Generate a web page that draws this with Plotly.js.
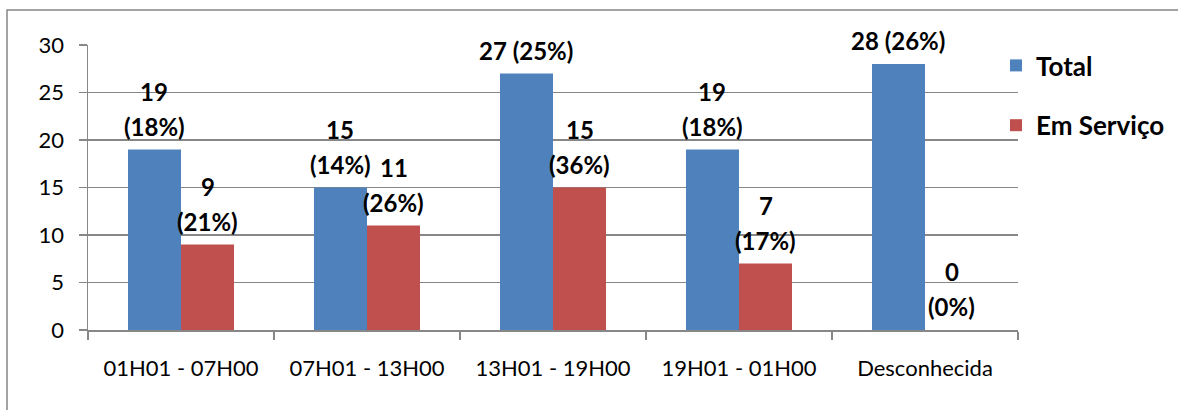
<!DOCTYPE html>
<html><head><meta charset="utf-8">
<script src="https://cdn.plot.ly/plotly-3.0.1.min.js"></script>
<style>html,body{margin:0;padding:0;background:#fff}#chart{width:1178px;height:410px}</style>
</head><body><div id="chart"></div>
<script>
const categories = ["01H01 - 07H00", "07H01 - 13H00", "13H01 - 19H00", "19H01 - 01H00", "Desconhecida"];
const totalValues = [19, 15, 27, 19, 28];
const servicoValues = [9, 11, 15, 7, 0];
const totalLabels = ["19\n(18%)", "15\n(14%)", "27 (25%)", "19\n(18%)", "28 (26%)"];
const servicoLabels = ["9\n(21%)", "11\n(26%)", "15\n(36%)", "7\n(17%)", "0\n(0%)"];
const seriesNames = ["Total", "Em Serviço"];
const yTicks = [0, 5, 10, 15, 20, 25, 30];

const W = 1178, H = 410;
const margin = {l: 88, r: 160, t: 45, b: 80, autoexpand: false};
const plotW = W - margin.l - margin.r;
const plotH = H - margin.t - margin.b;
const bargap = 0.43;
const barPx = (plotW / categories.length) * (1 - bargap) / 2;
const gray = '#878787';
const fontFam = 'Lato, "Open Sans", sans-serif';

const traces = [
  {type: 'bar', name: seriesNames[0], x: categories, y: totalValues, marker: {color: '#4F81BD'}, legendgroup: 'a', hoverinfo: 'none'},
  {type: 'bar', name: seriesNames[1], x: categories, y: servicoValues, marker: {color: '#C0504D'}, legendgroup: 'b', hoverinfo: 'none'}
];

const annotations = [];
const gap = 7, lineStep = 35;
[[totalValues, totalLabels, -1], [servicoValues, servicoLabels, 1]].forEach(([vals, labels, side]) => {
  vals.forEach((v, i) => {
    const lines = labels[i].split('\n').reverse();
    lines.forEach((ln, k) => {
      annotations.push({
        x: categories[i], y: v, xref: 'x', yref: 'y',
        text: ln, showarrow: false, xanchor: 'center', yanchor: 'bottom',
        xshift: side * barPx / 2, yshift: gap + k * lineStep,
        font: {family: fontFam, size: 24, weight: 700, color: '#000'}
      });
    });
  });
});

const layout = {
  width: W, height: H,
  margin: margin,
  paper_bgcolor: '#fff', plot_bgcolor: '#fff',
  barmode: 'group', bargap: bargap, bargroupgap: 0,
  font: {family: fontFam, color: '#000'},
  xaxis: {
    type: 'category', showline: true, linecolor: gray, linewidth: 1.5,
    ticks: 'outside', tickson: 'boundaries', ticklen: 8, tickcolor: gray, tickwidth: 1.5,
    showgrid: false, tickfont: {family: fontFam, size: 22, color: '#000'}, ticklabelstandoff: 18,
    fixedrange: true, automargin: false
  },
  yaxis: {
    range: [0, 30], tickvals: yTicks, showgrid: true, gridcolor: gray, gridwidth: 1.5,
    showline: true, linecolor: gray, linewidth: 1.5, zeroline: false,
    ticks: 'outside', ticklen: 8, tickcolor: gray, tickwidth: 1.5,
    tickfont: {family: fontFam, size: 22, color: '#000'}, ticklabelstandoff: 10,
    fixedrange: true, automargin: false
  },
  showlegend: true,
  legend: {
    x: (996 - margin.l) / plotW, xanchor: 'left',
    y: (margin.t + plotH - 42) / plotH, yanchor: 'top',
    font: {family: fontFam, size: 26, weight: 700, color: '#000'},
    tracegroupgap: 23, traceorder: 'grouped', bgcolor: 'rgba(0,0,0,0)'
  },
  annotations: annotations,
  shapes: [{
    type: 'rect', xref: 'paper', yref: 'paper',
    x0: (7 - margin.l) / plotW, x1: (W + 10 - margin.l) / plotW,
    y0: -(H + 10 - margin.t - plotH) / plotH, y1: (margin.t + plotH - 10) / plotH,
    line: {color: gray, width: 1.5}, fillcolor: 'rgba(0,0,0,0)', layer: 'below'
  }]
};

Plotly.newPlot('chart', traces, layout, {displayModeBar: false, staticPlot: true});
</script>
</body></html>
